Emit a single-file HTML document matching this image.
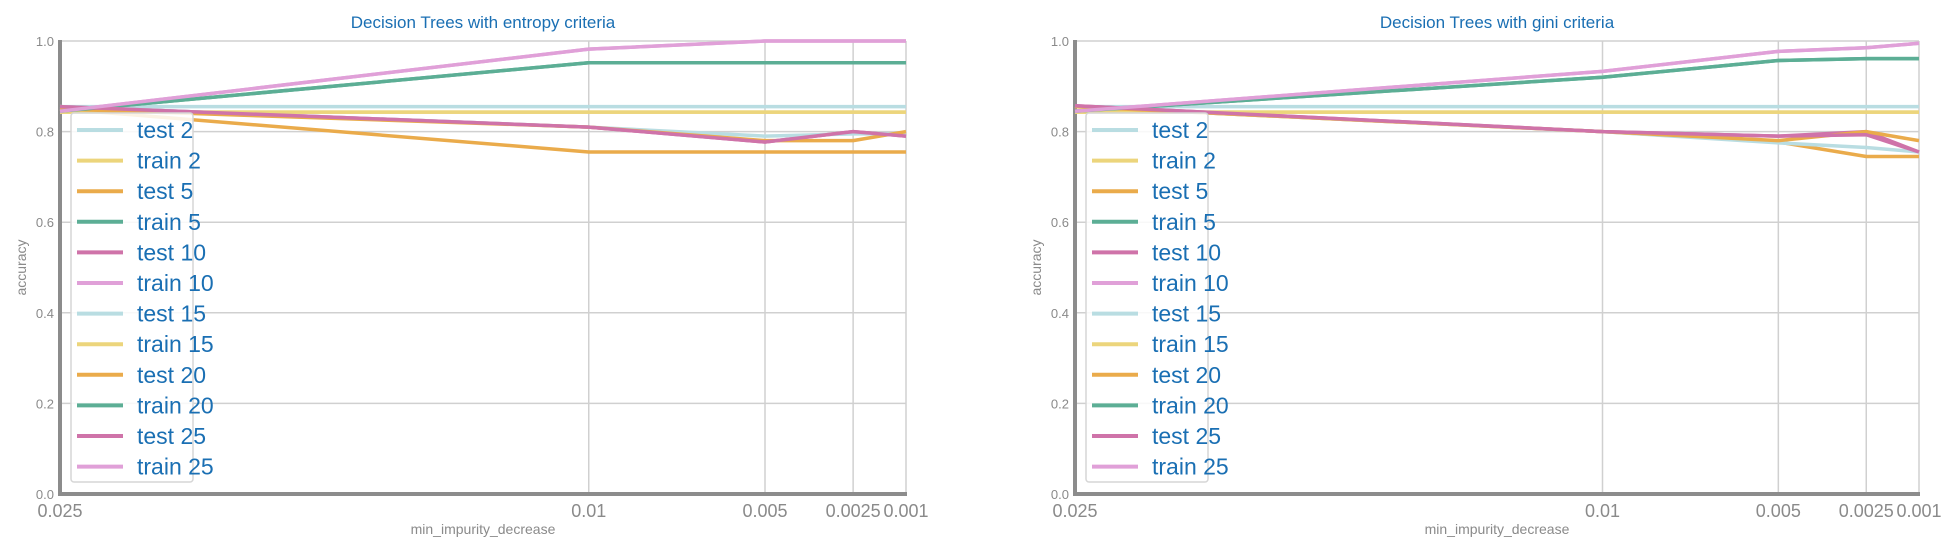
<!DOCTYPE html>
<html><head><meta charset="utf-8"><style>
html,body{margin:0;padding:0;background:#fff;}
svg{display:block;font-family:"Liberation Sans","DejaVu Sans",sans-serif;}
</style></head><body>
<svg id="chart" width="1960" height="553" viewBox="0 0 1960 553"></svg>
<script>
const xTicks = [0.025, 0.01, 0.005, 0.0025, 0.001];
const xTickLabels = ["0.025", "0.01", "0.005", "0.0025", "0.001"];
const yTicks = [0, 0.2, 0.4, 0.6, 0.8, 1.0];
const yTickLabels = ["0.0", "0.2", "0.4", "0.6", "0.8", "1.0"];
const seriesNames = ["test 2","train 2","test 5","train 5","test 10","train 10","test 15","train 15","test 20","train 20","test 25","train 25"];
const seriesColors = ["#b9dde2","#ecd57c","#eaab4b","#5cae95","#cf73a9","#e0a0d8","#b9dde2","#ecd57c","#eaab4b","#5cae95","#cf73a9","#e0a0d8"];
// entropy
const entTest2 = [0.855,0.855,0.855,0.855,0.855];
const entTrain2 = [0.843,0.843,0.843,0.843,0.843];
const entTest5 = [0.85,0.755,0.755,0.755,0.755];
const entTrain5 = [0.845,0.952,0.952,0.952,0.952];
const entTest10 = [0.855,0.81,0.777,0.80,0.79];
const entTrain10 = [0.845,0.982,1.0,1.0,1.0];
const entTest15 = [0.855,0.81,0.79,0.795,0.795];
const entTrain15 = [0.843,0.843,0.843,0.843,0.843];
const entTest20 = [0.85,0.81,0.78,0.78,0.80];
const entTrain20 = [0.845,0.952,0.952,0.952,0.952];
const entTest25 = [0.855,0.81,0.777,0.80,0.79];
const entTrain25 = [0.845,0.982,1.0,1.0,1.0];
// gini
const giniTest2 = [0.855,0.855,0.855,0.855,0.855];
const giniTrain2 = [0.843,0.843,0.843,0.843,0.843];
const giniTest5 = [0.855,0.80,0.777,0.745,0.745];
const giniTrain5 = [0.845,0.92,0.957,0.961,0.961];
const giniTest10 = [0.857,0.80,0.79,0.80,0.755];
const giniTrain10 = [0.845,0.933,0.977,0.985,0.995];
const giniTest15 = [0.855,0.80,0.775,0.765,0.755];
const giniTrain15 = [0.843,0.843,0.843,0.843,0.843];
const giniTest20 = [0.855,0.80,0.78,0.80,0.78];
const giniTrain20 = [0.845,0.92,0.957,0.961,0.961];
const giniTest25 = [0.857,0.80,0.79,0.793,0.755];
const giniTrain25 = [0.845,0.933,0.977,0.985,0.995];
const entSeries = [entTest2,entTrain2,entTest5,entTrain5,entTest10,entTrain10,entTest15,entTrain15,entTest20,entTrain20,entTest25,entTrain25];
const giniSeries = [giniTest2,giniTrain2,giniTest5,giniTrain5,giniTest10,giniTrain10,giniTest15,giniTrain15,giniTest20,giniTrain20,giniTest25,giniTrain25];

const NS = "http://www.w3.org/2000/svg";
const svg = document.getElementById("chart");
function mk(tag, attrs, parent){const e=document.createElementNS(NS,tag);for(const k in attrs)e.setAttribute(k,attrs[k]);(parent||svg).appendChild(e);return e;}

function panel(x0, x1, title, series, key){
  const y0 = 41, y1 = 494;
  const xs = v => x0 + (0.025 - v) / (0.025 - 0.001) * (x1 - x0);
  const ys = v => y1 - v * (y1 - y0);
  const g = mk("g", {});
  
  
  const t = mk("text", {x:(x0+x1)/2, y:28, "text-anchor":"middle", "font-size":17, fill:"#1a6fb3"}, g);
  t.textContent = title;
  
  
  yTicks.forEach((v,i)=>{
    const l = mk("line",{x1:x0,x2:x1,y1:ys(v),y2:ys(v),stroke:"#d0d0d0","stroke-width":1.5},g);
    
    
    const tl = mk("text",{x:x0-6,y:ys(v)+5,"text-anchor":"end","font-size":13,fill:"#8a8a8a"},g);
    tl.textContent = yTickLabels[i];
    
    
  });
  xTicks.forEach((v,i)=>{
    const l = mk("line",{x1:xs(v),x2:xs(v),y1:y0,y2:y1,stroke:"#d0d0d0","stroke-width":1.5},g);
    
    
    const tl = mk("text",{x:xs(v),y:y1+23,"text-anchor":"middle","font-size":18,fill:"#8a8a8a"},g);
    tl.textContent = xTickLabels[i];
    
    
  });
  const sl = mk("line",{x1:x0,x2:x0,y1:y0-1,y2:y1+2,stroke:"#8c8c8c","stroke-width":4},g);
  
  
  const sb = mk("line",{x1:x0-2,x2:x1+1,y1:y1,y2:y1,stroke:"#8c8c8c","stroke-width":4},g);
  
  
  series.forEach((arr,i)=>{
    const pts = arr.map((v,j)=>xs(xTicks[j])+","+ys(v)).join(" ");
    const p = mk("polyline",{points:pts,fill:"none",stroke:seriesColors[i],"stroke-width":3.5,"stroke-linejoin":"round"},g);
    
    
  });
  const xt = mk("text",{x:(x0+x1)/2,y:534,"text-anchor":"middle","font-size":14,fill:"#8a8a8a"},g);
  xt.textContent = "min_impurity_decrease";
  
  
  const yt = mk("text",{x:0,y:0,"text-anchor":"middle","font-size":14,fill:"#8a8a8a",transform:`translate(${x0-34},${(y0+y1)/2}) rotate(-90)`},g);
  yt.textContent = "accuracy";
  
  
  const lg = mk("g",{},g);
  
  
  mk("rect",{x:x0+11,y:113,width:122,height:369,rx:3,fill:"rgba(255,255,255,0.85)",stroke:"#d6d6d6","stroke-width":1.5},lg);
  seriesNames.forEach((n,i)=>{
    const cy = 130 + i*30.6;
    const e = mk("g",{},lg);
    
    
    mk("line",{x1:x0+17,x2:x0+63,y1:cy,y2:cy,stroke:seriesColors[i],"stroke-width":4},e);
    const tx = mk("text",{x:x0+77,y:cy+8,"font-size":23,fill:"#1a6fb3"},e);
    tx.textContent = n;
  });
}
panel(60, 906, "Decision Trees with entropy criteria", entSeries, "entropy");
panel(1075, 1919, "Decision Trees with gini criteria", giniSeries, "gini");
</script>
</body></html>
